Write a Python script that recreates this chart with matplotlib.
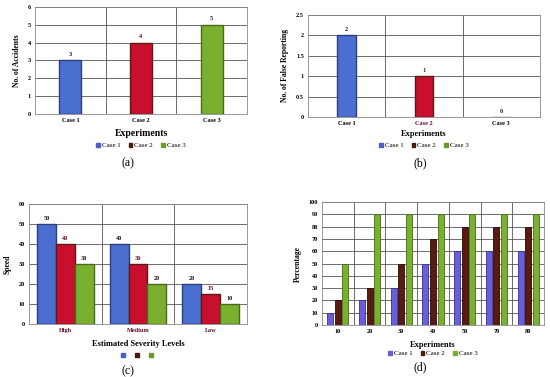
import numpy as np
import matplotlib
matplotlib.use('Agg')
import matplotlib.pyplot as plt
from matplotlib.patches import Patch

plt.rcParams['font.family'] = ['Liberation Serif', 'DejaVu Serif']

# (a) accidents
cases = ['Case 1', 'Case 2', 'Case 3']
accidents = [3, 4, 5]
# (b) false reporting
false_rep = [2, 1, 0]
# (c) speed per severity level
severity = ['High', 'Medium', 'Low']
speed_c1 = [50, 40, 20]
speed_c2 = [40, 30, 15]
speed_c3 = [30, 20, 10]
# (d) percentage per experiment count
experiments = ['10', '20', '30', '40', '50', '70', '80']
pct_c1 = [10, 20, 30, 50, 60, 60, 60]
pct_c2 = [20, 30, 50, 70, 80, 80, 80]
pct_c3 = [50, 90, 90, 90, 90, 90, 90]

blue, red, green = '#4a6fd0', '#c8102e', '#7ab030'
blue_e, red_e, green_e = '#2c3f7a', '#5a1a14', '#4a6a1a'
leg_cols = ['#4a5fc8', '#4a1a10', '#6a9a2a']
dark = '#1a1a1a'
maroon = '#6a0a30'

W, H = 550, 377
fig = plt.figure(figsize=(5.5, 3.77), dpi=100)


def add_ax(l, t, r, b):
    return fig.add_axes([l / W, 1 - b / H, (r - l) / W, (b - t) / H])


def style(ax, n, ymax, ystep):
    ax.set_xlim(-0.5, n - 0.5)
    ax.set_ylim(0, ymax)
    ax.set_yticks(np.arange(0, ymax + ystep / 2, ystep))
    ax.set_xticks(np.arange(n))
    ax.set_xticks(np.arange(n - 1) + 0.5, minor=True)
    ax.grid(True, axis='y', color='#555555', lw=0.6)
    ax.grid(True, axis='x', which='minor', color='#555555', lw=0.6)
    ax.set_axisbelow(True)
    for s in ax.spines.values():
        s.set_color('#888888')
        s.set_linewidth(0.6)
    ax.tick_params(which='both', length=0, labelsize=4.5, pad=3)
    for lbl in ax.get_xticklabels() + ax.get_yticklabels():
        lbl.set_fontweight('bold')


def legend(ax, y, labels=cases):
    handles = [Patch(color=c) for c in leg_cols]
    ax.legend(handles, labels, loc='upper center', bbox_to_anchor=(0.5, y),
              ncol=3, frameon=False, fontsize=5, handlelength=0.5, handleheight=0.5,
              columnspacing=1.2, handletextpad=0.3)


# (a)
ax = add_ax(35, 7, 247, 114)
style(ax, 3, 6, 1)
x = np.arange(3)
bars = ax.bar(x, accidents, width=0.31, color=[blue, red, green],
              edgecolor=[blue_e, red_e, green_e], lw=1)
for xi, v, c in zip(x, accidents, [dark, maroon, dark]):
    ax.text(xi, v + 0.2, str(v), ha='center', va='bottom', fontsize=4.5,
            fontweight='bold', color=c)
ax.set_xticklabels(cases)
ax.set_ylabel('No. of Accidents', fontsize=5.5, fontweight='bold', labelpad=5)
ax.set_xlabel('Experiments', fontsize=7, fontweight='bold', labelpad=4)
legend(ax, -0.21)
fig.text(128 / W, 1 - 163 / H, '(a)', ha='center', va='center', fontsize=8.5)

# (b)
ax = add_ax(308, 15, 540, 117)
style(ax, 3, 2.5, 0.5)
ax.set_yticklabels(['0', '0.5', '1', '1.5', '2', '2.5'])
for lbl in ax.get_yticklabels():
    lbl.set_fontweight('bold')
ax.bar(x, false_rep, width=0.24, color=[blue, red, green],
       edgecolor=[blue_e, red_e, green_e], lw=1)
for xi, v, c in zip(x, false_rep, [dark, maroon, dark]):
    ax.text(xi, v + 0.08, str(v), ha='center', va='bottom', fontsize=4.5,
            fontweight='bold', color=c)
ax.set_xticklabels(cases)
xl = ax.get_xticklabels()
xl[1].set_color(maroon)
ax.set_ylabel('No. of False Reporting', fontsize=5.5, fontweight='bold', labelpad=5)
ax.set_xlabel('Experiments', fontsize=6, fontweight='bold', labelpad=3)
legend(ax, -0.19)
fig.text(420 / W, 1 - 163 / H, '(b)', ha='center', va='center', fontsize=8.5)

# (c)
ax = add_ax(29, 204, 247, 324)
style(ax, 3, 60, 10)
w = 0.26
for k, (vals, c, e) in enumerate(zip([speed_c1, speed_c2, speed_c3],
                                     [blue, red, green], [blue_e, red_e, green_e])):
    pos = np.arange(3) + (k - 1) * w
    ax.bar(pos, vals, width=w, color=c, edgecolor=e, lw=1)
    for p, v in zip(pos, vals):
        ax.text(p, v + 1.5, str(v), ha='center', va='bottom', fontsize=4.5,
                fontweight='bold', color=maroon if k == 1 else dark)
ax.set_xticklabels(severity)
for lbl in ax.get_xticklabels():
    lbl.set_color(maroon)
    lbl.set_fontweight('bold')
ax.set_ylabel('Speed', fontsize=5.5, fontweight='bold', labelpad=5)
ax.set_xlabel('Estimated Severity Levels', fontsize=6, fontweight='bold', labelpad=5)
legend(ax, -0.19, labels=['', '', ''])
fig.text(128 / W, 1 - 371 / H, '(c)', ha='center', va='center', fontsize=8.5)

# (d)
ax = add_ax(322, 202, 544, 325)
style(ax, 7, 100, 10)
w = 0.19
step = 0.24
d_cols = ['#6a5fd8', '#5a1a14', '#7ab030']
d_edge = ['#3a3090', '#2a0a06', '#4a6a1a']
for k, (vals, c, e) in enumerate(zip([pct_c1, pct_c2, pct_c3], d_cols, d_edge)):
    pos = np.arange(7) + (k - 1) * step
    ax.bar(pos, vals, width=w, color=c, edgecolor=e, lw=0.6)
ax.set_xticklabels(experiments)
for lbl in ax.get_xticklabels():
    lbl.set_fontweight('bold')
ax.set_ylabel('Percentage', fontsize=5.5, fontweight='bold', labelpad=5)
ax.set_xlabel('Experiments', fontsize=6, fontweight='bold', labelpad=5)
h = [Patch(color=c) for c in ['#6a5fd8', '#4a1a10', '#7ab030']]
ax.legend(h, cases, loc='upper center', bbox_to_anchor=(0.5, -0.16), ncol=3,
          frameon=False, fontsize=5, handlelength=0.5, handleheight=0.5,
          columnspacing=1.2, handletextpad=0.3)
fig.text(420 / W, 1 - 367 / H, '(d)', ha='center', va='center', fontsize=8.5)

fig.savefig('out.png', dpi=100, facecolor='white')
